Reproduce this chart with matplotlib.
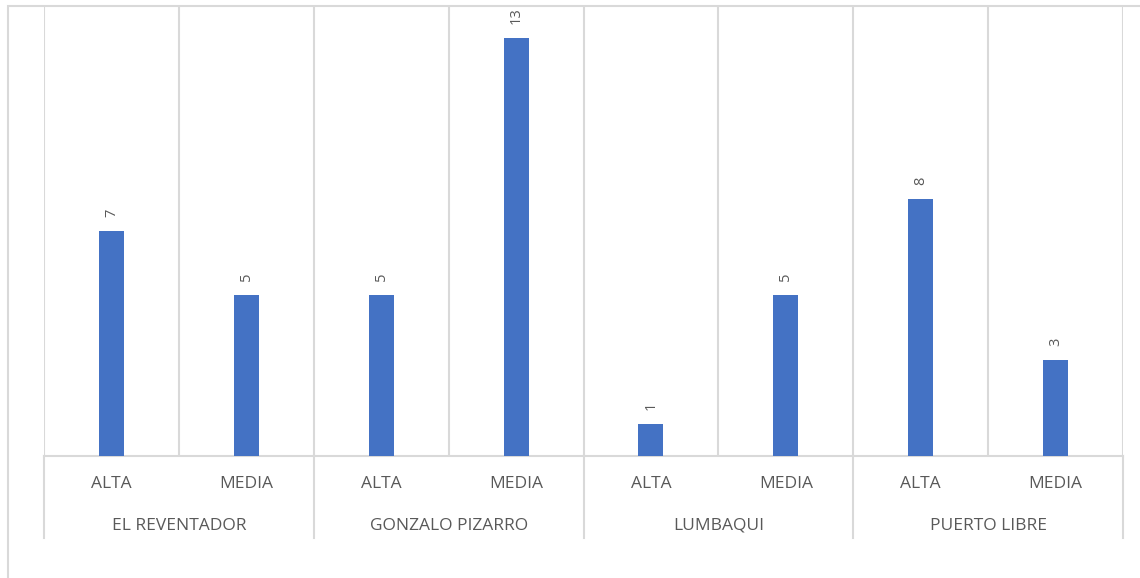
import numpy as np
import matplotlib.pyplot as plt
from matplotlib.transforms import blended_transform_factory
from matplotlib.patches import Rectangle

# data
groups = ['EL REVENTADOR', 'GONZALO PIZARRO', 'LUMBAQUI', 'PUERTO LIBRE']
levels = ['ALTA', 'MEDIA']
values = [7, 5, 5, 13, 1, 5, 8, 3]

plt.rcParams['font.family'] = ['Open Sans', 'DejaVu Sans']
grid_col = '#d9d9d9'
txt_col = '#595959'

fig = plt.figure(figsize=(11.4, 5.78), dpi=100)
ax = fig.add_axes([44/1140, 122/578, (1123-44)/1140, 450/578])

# outer chart frame
fig.patches.append(Rectangle((8/1140, -0.1), 1.2, (578-6)/578 + 0.1,
                             transform=fig.transFigure, fill=False,
                             edgecolor=grid_col, lw=1.5))

x = np.arange(len(values))
ax.bar(x, values, width=0.185, color='#4472C4', zorder=3)

# value labels, rotated like the original
for xi, v in zip(x, values):
    ax.annotate(str(v), (xi, v), xytext=(0, 10), textcoords='offset points',
                rotation=90, ha='center', va='bottom', fontsize=10.5, color=txt_col)

ax.set_xlim(-0.5, len(values) - 0.5)
ax.set_ylim(0, 14)
ax.set_xticks(np.arange(-0.5, len(values), 1.0))
ax.set_xticklabels([])
ax.tick_params(length=0)
ax.set_yticks([])
ax.grid(axis='x', color=grid_col, lw=1.5, zorder=0)
for s in ['left', 'right', 'top']:
    ax.spines[s].set_visible(False)
ax.spines['bottom'].set_color(grid_col)
ax.spines['bottom'].set_linewidth(1.5)

# two-level category axis
tr = blended_transform_factory(ax.transData, ax.transAxes)
for i, xi in enumerate(x):
    ax.text(xi, -0.062, levels[i % 2], transform=tr, ha='center', va='center',
            fontsize=12.5, color=txt_col)
for g, name in enumerate(groups):
    ax.text(2*g + 0.5, -0.155, name, transform=tr, ha='center', va='center',
            fontsize=12.5, color=txt_col)
for b in np.arange(-0.5, len(values), 2.0):
    ax.plot([b, b], [0, -0.182], transform=tr, color=grid_col, lw=1.5, clip_on=False)

fig.savefig('out.png', dpi=100)
